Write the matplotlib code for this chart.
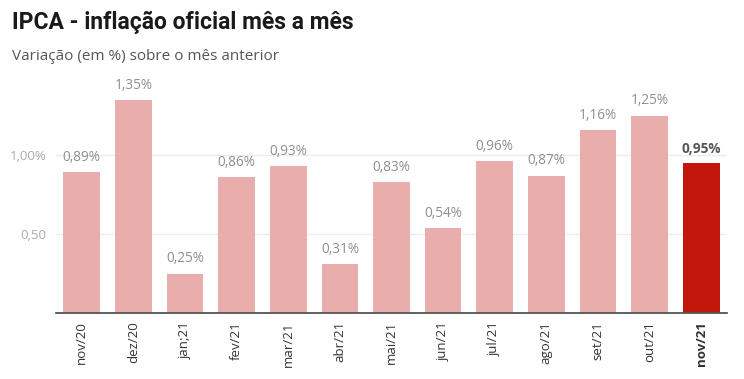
import matplotlib
matplotlib.use("Agg")
import matplotlib.pyplot as plt

categories = ["nov/20", "dez/20", "jan;21", "fev/21", "mar/21", "abr/21", "mai/21",
              "jun/21", "jul/21", "ago/21", "set/21", "out/21", "nov/21"]
values = [0.89, 1.35, 0.25, 0.86, 0.93, 0.31, 0.83, 0.54, 0.96, 0.87, 1.16, 1.25, 0.95]
value_labels = ["0,89%", "1,35%", "0,25%", "0,86%", "0,93%", "0,31%", "0,83%",
                "0,54%", "0,96%", "0,87%", "1,16%", "1,25%", "0,95%"]
yticks = [0.5, 1.0]
ytick_labels = ["0,50", "1,00%"]

plt.rcParams['font.family'] = ['Open Sans', 'DejaVu Sans']

fig = plt.figure(figsize=(7.44, 3.79), dpi=100)
ax = fig.add_axes([56/744, (379-313)/379, (727-56)/744, (313-76)/379])

pink = "#e9adab"
red = "#c4170c"
colors = [pink] * (len(values) - 1) + [red]
x = list(range(len(values)))
ax.bar(x, values, width=0.71, color=colors, zorder=2)

for i, (v, lab) in enumerate(zip(values, value_labels)):
    last = i == len(values) - 1
    ax.text(i, v + 0.045, lab, ha="center", va="bottom", fontsize=9.8,
            color="#555555" if last else "#8f8f8f",
            fontweight="bold" if last else "normal")

ax.set_xlim(-0.5, len(values) - 0.5)
ax.set_ylim(0, 1.5)
ax.set_yticks(yticks)
ax.set_yticklabels(ytick_labels, fontsize=9.5, color="#aaaaaa")
ax.yaxis.grid(True, color="#ececec", linewidth=1, zorder=0)
ax.tick_params(axis="y", length=0, pad=7)
ax.set_xticks(x)
ax.set_xticklabels(categories, rotation=90, fontsize=9.5, color="#333333")
ax.get_xticklabels()[-1].set_fontweight("bold")
ax.tick_params(axis="x", length=0, pad=6)
for s in ["top", "right", "left"]:
    ax.spines[s].set_visible(False)
ax.spines["bottom"].set_color("#555555")
ax.spines["bottom"].set_linewidth(1.3)
ax.spines["bottom"].set_zorder(3)

fig.text(12/744, 1 - 22/379, "IPCA - inflação oficial mês a mês", fontsize=16.5,
         fontweight="bold", color="#1a1a1a", va="center", ha="left",
         family=["Roboto", "DejaVu Sans"])
fig.text(12/744, 1 - 57/379, "Variação (em %) sobre o mês anterior", fontsize=11,
         color="#555555", va="center", ha="left")

fig.savefig("out.png", dpi=100, facecolor="white")
